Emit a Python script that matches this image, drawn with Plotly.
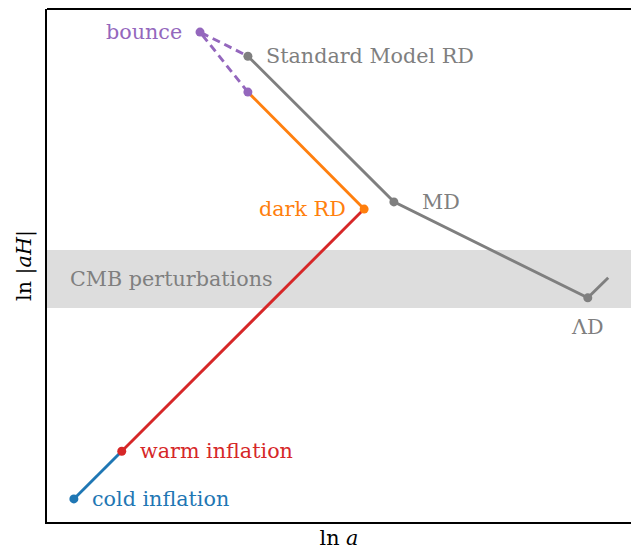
import plotly.graph_objects as go

# data (arbitrary units of ln a, ln|aH|)
cold_x = [0.46, 1.28]; cold_y = [0.45, 1.38]
warm_x = [1.28, 5.43]; warm_y = [1.38, 6.10]
dark_x = [5.43, 3.44]; dark_y = [6.10, 8.38]
bounce_x = [3.44, 2.62, 3.44]; bounce_y = [8.38, 9.55, 9.08]
sm_x = [3.44, 5.94, 9.26, 9.61]; sm_y = [9.08, 6.24, 4.37, 4.76]
band = [4.17, 5.30]

blue = "#1f77b4"; red = "#d62728"; orange = "#ff7f0e"; purple = "#9467bd"; gray = "#7f7f7f"
FONT = "DejaVu Serif"
FS = 20.7

fig = go.Figure()
fig.add_shape(type="rect", xref="paper", yref="y", x0=0, x1=1, y0=band[0], y1=band[1],
              fillcolor="#dddddd", line=dict(width=0), layer="below")

def seg(x, y, c, dash="solid"):
    fig.add_trace(go.Scatter(x=x, y=y, mode="lines", line=dict(color=c, width=2.9, dash=dash),
                             showlegend=False, hoverinfo="skip"))

seg(cold_x, cold_y, blue)
seg(warm_x, warm_y, red)
seg(dark_x, dark_y, orange)
seg(sm_x, sm_y, gray)
seg(bounce_x, bounce_y, purple, dash="8px,5px")

def pt(x, y, c):
    fig.add_trace(go.Scatter(x=[x], y=[y], mode="markers", marker=dict(color=c, size=9),
                             showlegend=False, hoverinfo="skip"))

pt(cold_x[0], cold_y[0], blue)
pt(warm_x[0], warm_y[0], red)
pt(dark_x[0], dark_y[0], orange)
pt(sm_x[0], sm_y[0], gray)
pt(sm_x[1], sm_y[1], gray)
pt(sm_x[2], sm_y[2], gray)
pt(bounce_x[1], bounce_y[1], purple)
pt(bounce_x[0], bounce_y[0], purple)

def lab(text, x, y, c, xanchor, xs=0, ys=0):
    fig.add_annotation(x=x, y=y, text=text, showarrow=False, xanchor=xanchor, yanchor="middle",
                       xshift=xs, yshift=ys, font=dict(family=FONT, size=FS, color=c))

lab("cold inflation", cold_x[0], cold_y[0], blue, "left", 16)
lab("warm inflation", warm_x[0], warm_y[0], red, "left", 16)
lab("dark RD", dark_x[0], dark_y[0], orange, "right", -16)
lab("bounce", bounce_x[1], bounce_y[1], purple, "right", -16)
lab("Standard Model RD", sm_x[0], sm_y[0], gray, "left", 16)
lab("MD", sm_x[1], sm_y[1], gray, "left", 26)
lab("ΛD", sm_x[2], sm_y[2], gray, "center", 0, -29)
fig.add_annotation(x=0.036, xref="paper", y=(band[0] + band[1]) / 2, text="CMB perturbations",
                   showarrow=False, xanchor="left", yanchor="middle",
                   font=dict(family=FONT, size=FS, color=gray))

fig.update_layout(
    width=631, height=550, plot_bgcolor="white", paper_bgcolor="white",
    margin=dict(l=47, r=0, t=9, b=28),
    font=dict(family=FONT, size=FS, color="black"),
)
fig.update_xaxes(range=[0, 10], showticklabels=False, ticks="", showgrid=False, zeroline=False,
                 showline=True, linecolor="black", linewidth=2, mirror=False,
                 title=dict(text="ln <i>a</i>", standoff=10, font=dict(family=FONT, size=FS)))
fig.update_yaxes(range=[0, 10], showticklabels=False, ticks="", showgrid=False, zeroline=False,
                 showline=True, linecolor="black", linewidth=2,
                 title=dict(text="ln |<i>aH</i>|", standoff=8, font=dict(family=FONT, size=FS)))
fig.add_shape(type="line", xref="paper", yref="paper", x0=0, x1=1, y0=1, y1=1,
              line=dict(color="black", width=2))

fig.write_html("out.html", config={"displayModeBar": False},
               post_script="document.body.style.margin='0';document.body.style.overflow='hidden';")
